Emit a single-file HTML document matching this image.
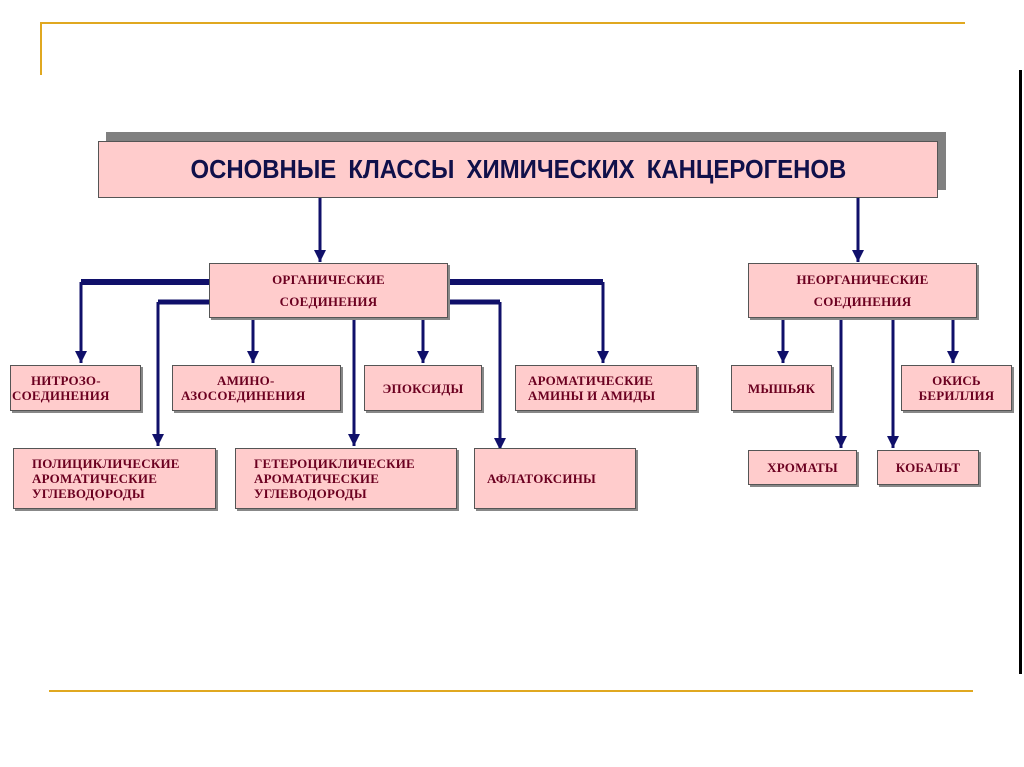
<!DOCTYPE html>
<html><head><meta charset="utf-8"><style>
body{margin:0;width:1024px;height:767px;background:#fff;position:relative;overflow:hidden;font-family:"Liberation Serif",serif}
.b{position:absolute;background:#ffcccc;border:1px solid #555;box-shadow:2px 2px 0 #888;color:#6b0020;font-weight:bold;font-size:13px;line-height:15px;display:flex;align-items:center;box-sizing:border-box;padding-left:18px;letter-spacing:0.2px}
.c{justify-content:center;text-align:center;padding:0}
</style></head><body>
<div style="position:absolute;left:40px;top:22px;width:925px;height:2px;background:#e0a820"></div>
<div style="position:absolute;left:40px;top:22px;width:2px;height:53px;background:#e0a820"></div>
<div style="position:absolute;left:49px;top:690px;width:924px;height:2px;background:#e0a820"></div>
<div style="position:absolute;left:1019px;top:70px;width:3px;height:604px;background:#000"></div>
<div style="position:absolute;left:106px;top:132px;width:840px;height:58px;background:#808080"></div>
<div style="position:absolute;left:98px;top:141px;width:840px;height:57px;background:#ffcccc;border:1px solid #555;box-sizing:border-box;display:flex;align-items:center;justify-content:center;font-family:'Liberation Sans',sans-serif;font-weight:bold;font-size:26px;color:#10104a;word-spacing:6px"><span style="display:inline-block;transform:scaleX(0.92)">ОСНОВНЫЕ КЛАССЫ ХИМИЧЕСКИХ КАНЦЕРОГЕНОВ</span></div>
<svg width="1024" height="767" style="position:absolute;left:0;top:0">
<defs><marker id="a" markerWidth="4" markerHeight="4" refX="4" refY="2" orient="auto" markerUnits="strokeWidth"><path d="M0,0 L4,2 L0,4 Z" fill="#10106a"/></marker></defs>
<g stroke="#10106a" fill="none" stroke-width="3">
<path d="M81,282 H603" stroke-width="6"/>
<path d="M158,302 H500" stroke-width="5"/>
<g marker-end="url(#a)">
<path d="M320,198 V262"/><path d="M858,198 V262"/>
<path d="M81,282 V363"/><path d="M603,282 V363"/>
<path d="M158,302 V446"/><path d="M500,302 V450"/>
<path d="M253,318 V363"/><path d="M354,318 V446"/><path d="M423,318 V363"/>
<path d="M783,318 V363"/><path d="M841,318 V448"/><path d="M893,318 V448"/><path d="M953,318 V363"/>
</g></g></svg>
<div class="b c" style="left:209px;top:263px;width:239px;height:55px;line-height:22px">ОРГАНИЧЕСКИЕ<br>СОЕДИНЕНИЯ</div>
<div class="b c" style="left:748px;top:263px;width:229px;height:55px;line-height:22px">НЕОРГАНИЧЕСКИЕ<br>СОЕДИНЕНИЯ</div>
<div class="b" style="left:10px;top:365px;width:131px;height:46px;padding-left:0;display:block;padding-top:7px"><div style="padding-left:20px">НИТРОЗО-</div><div style="padding-left:1px">СОЕДИНЕНИЯ</div></div>
<div class="b" style="left:172px;top:365px;width:169px;height:46px;display:block;padding-top:7px;padding-left:0"><div style="padding-left:44px">АМИНО-</div><div style="padding-left:8px">АЗОСОЕДИНЕНИЯ</div></div>
<div class="b c" style="left:364px;top:365px;width:118px;height:46px">ЭПОКСИДЫ</div>
<div class="b" style="left:515px;top:365px;width:182px;height:46px;padding-left:12px">АРОМАТИЧЕСКИЕ<br>АМИНЫ И АМИДЫ</div>
<div class="b c" style="left:731px;top:365px;width:101px;height:46px">МЫШЬЯК</div>
<div class="b c" style="left:901px;top:365px;width:111px;height:46px">ОКИСЬ<br>БЕРИЛЛИЯ</div>
<div class="b" style="left:13px;top:448px;width:203px;height:61px">ПОЛИЦИКЛИЧЕСКИЕ<br>АРОМАТИЧЕСКИЕ<br>УГЛЕВОДОРОДЫ</div>
<div class="b" style="left:235px;top:448px;width:222px;height:61px">ГЕТЕРОЦИКЛИЧЕСКИЕ<br>АРОМАТИЧЕСКИЕ<br>УГЛЕВОДОРОДЫ</div>
<div class="b" style="left:474px;top:448px;width:162px;height:61px;padding-left:12px">АФЛАТОКСИНЫ</div>
<div class="b c" style="left:748px;top:450px;width:109px;height:35px">ХРОМАТЫ</div>
<div class="b c" style="left:877px;top:450px;width:102px;height:35px">КОБАЛЬТ</div>
</body></html>
